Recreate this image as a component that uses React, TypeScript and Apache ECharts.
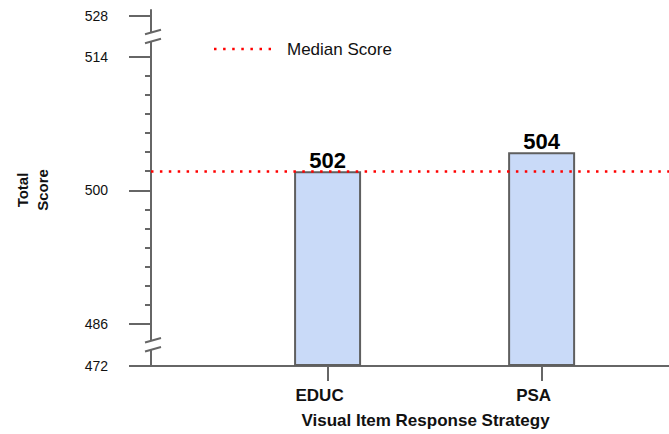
import { useEffect, useRef } from "react";
import * as echarts from "echarts";

// ---- data ----
const categories = ["EDUC", "PSA"];
const scores = [502, 504];
const medianScore = 502;
const majorTicks = [472, 486, 500, 514, 528];
const minorTicks = [488, 490, 492, 494, 496, 498, 502, 504, 506, 508, 510, 512];

// broken-axis scale: value -> display units (pixels along the axis)
const scaleValues = [472, 486, 514, 528];
const scaleDisplay = [0, 42.5, 309, 350];

function toDisp(v: number): number {
  for (let i = 0; i < scaleValues.length - 1; i++) {
    const a = scaleValues[i], b = scaleValues[i + 1];
    if (v <= b || i === scaleValues.length - 2) {
      const t = (v - a) / (b - a);
      return scaleDisplay[i] + t * (scaleDisplay[i + 1] - scaleDisplay[i]);
    }
  }
  return 0;
}

const FONT = "'Liberation Sans', Arial, Helvetica, sans-serif";
const AXIS = "#666666";

export default function App() {
  const ref = useRef<HTMLDivElement>(null);
  useEffect(() => {
    if (!ref.current) return;
    const chart = echarts.init(ref.current, undefined, { renderer: "svg" });
    const xMin = -0.825;
    const xMax = 1.74;
    const majorDisp = majorTicks.map(toDisp);
    const minorDisp = minorTicks.map(toDisp);
    const labelFor = (v: number) => {
      let best = 0;
      let bd = Infinity;
      majorTicks.forEach((t, i) => {
        const d = Math.abs(majorDisp[i] - v);
        if (d < bd) { bd = d; best = t; }
      });
      return String(best);
    };
    const option: any = {
      animation: false,
      textStyle: { fontFamily: FONT },
      grid: { left: 151, top: 10, width: 549, height: 356 },
      xAxis: {
        type: "value",
        min: xMin,
        max: xMax,
        splitLine: { show: false },
        axisLine: { show: true, onZero: false, lineStyle: { color: AXIS, width: 2 } },
        axisTick: { show: true, customValues: [0, 1], length: 15, lineStyle: { color: AXIS, width: 2 } },
        axisLabel: {
          customValues: [0, 1],
          formatter: (v: number) => categories[Math.round(v)] ?? "",
          fontSize: 17,
          fontWeight: "bold",
          color: "#111",
          margin: 21,
          padding: [0, 16, 0, 0],
          fontFamily: FONT,
        },
        name: "Visual Item Response Strategy",
        nameLocation: "middle",
        nameGap: 46,
        nameTextStyle: { fontSize: 17, fontWeight: "bold", color: "#111", fontFamily: FONT },
      },
      yAxis: [
        {
          type: "value",
          min: 0,
          max: 356,
          splitLine: { show: false },
          axisLine: { show: true, onZero: false, lineStyle: { color: AXIS, width: 2 } },
          axisTick: { show: true, customValues: majorDisp, length: 22, lineStyle: { color: AXIS, width: 2 } },
          axisLabel: {
            customValues: majorDisp,
            formatter: (v: number) => labelFor(v),
            fontSize: 14,
            color: "#111",
            margin: 43,
            fontFamily: FONT,
          },
        },
        {
          type: "value",
          min: 0,
          max: 356,
          position: "left",
          splitLine: { show: false },
          axisLine: { show: false, onZero: false },
          axisTick: { show: true, customValues: minorDisp, length: 6, lineStyle: { color: AXIS, width: 2 } },
          axisLabel: { show: false },
        },
      ],
      series: [
        {
          type: "bar",
          barWidth: 67,
          data: scores.map((s, i) => [i, toDisp(s)]),
          itemStyle: { color: "#c9daf8", borderColor: "#5f5f5f", borderWidth: 2 },
          label: {
            show: true,
            position: "top",
            distance: 0,
            formatter: (p: any) => String(scores[p.dataIndex]),
            fontSize: 22,
            fontWeight: "bold",
            color: "#000",
            fontFamily: FONT,
          },
          markLine: {
            silent: true,
            symbol: "none",
            label: { show: false },
            lineStyle: { color: "#ff0000", type: [2.5, 6.4], width: 2.5 },
            data: [{ yAxis: toDisp(medianScore) }],
          },
        },
      ],
    };
    chart.setOption(option);

    const ax = chart.convertToPixel({ xAxisIndex: 0 }, xMin) as number;
    const breaks = [
      (scaleDisplay[0] + scaleDisplay[1]) / 2,
      (scaleDisplay[2] + scaleDisplay[3]) / 2,
    ];
    const graphics: any[] = [];
    breaks.forEach((d) => {
      const yb = chart.convertToPixel({ yAxisIndex: 0 }, d) as number;
      graphics.push({
        type: "rect",
        shape: { x: ax - 2, y: yb - 4.5, width: 4, height: 9 },
        style: { fill: "#ffffff" },
        z: 50,
      });
      graphics.push({
        type: "line",
        shape: { x1: ax - 6, y1: yb - 2.3, x2: ax + 10, y2: yb - 6.7 },
        style: { stroke: AXIS, lineWidth: 2 },
        z: 51,
      });
      graphics.push({
        type: "line",
        shape: { x1: ax - 6, y1: yb + 6.7, x2: ax + 10, y2: yb + 2.3 },
        style: { stroke: AXIS, lineWidth: 2 },
        z: 51,
      });
    });
    // legend
    graphics.push({
      type: "line",
      shape: { x1: 214, y1: 49, x2: 271, y2: 49 },
      style: { stroke: "#ff0000", lineWidth: 2.5, lineDash: [2.5, 6.6] },
      z: 51,
    });
    graphics.push({
      type: "text",
      x: 287,
      y: 49,
      style: { text: "Median Score", font: `17px ${FONT}`, fill: "#111", textVerticalAlign: "middle", verticalAlign: "middle" },
      z: 51,
    });
    // y axis title
    graphics.push({
      type: "text",
      x: 32,
      y: 190,
      rotation: Math.PI / 2,
      style: {
        text: "Total\nScore",
        font: `bold 15px ${FONT}`,
        fill: "#111",
        align: "center",
        verticalAlign: "middle",
        lineHeight: 20,
      },
      z: 51,
    });
    chart.setOption({ graphic: graphics });

    return () => chart.dispose();
  }, []);

  return (
    <div style={{ position: "fixed", left: 0, top: 0, width: 669, height: 434, overflow: "hidden", background: "#fff" }}>
      <div ref={ref} style={{ width: 720, height: 434 }} />
    </div>
  );
}
